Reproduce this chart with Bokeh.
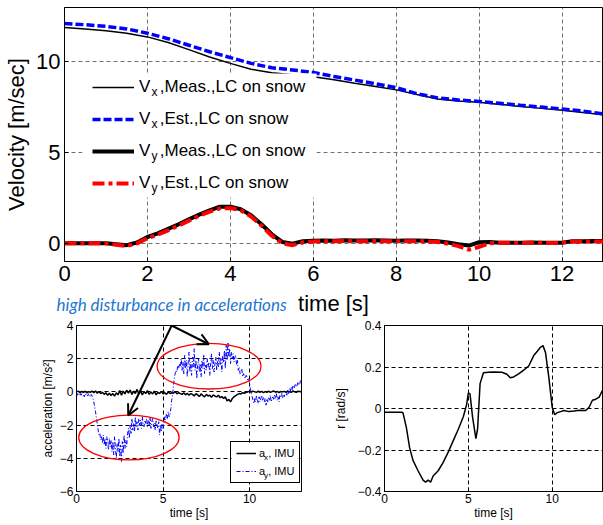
from bokeh.plotting import figure
from bokeh.models import (Range1d, FixedTicker, Legend, LegendItem, Label, Arrow, OpenHead,
                          BoxAnnotation)
from bokeh.layouts import column, row
from bokeh.embed import file_html
from bokeh.resources import INLINE

FONT = "Liberation Sans"

# ---------------- data: top plot (velocities) ----------------
t_vx = [0, 0.5, 1, 1.5, 2, 2.5, 3, 3.5, 4, 4.5, 5, 5.5, 6, 6.5, 7, 7.5, 8, 8.5, 9,
        9.5, 10, 10.5, 11, 11.5, 12, 12.5, 13]
vx_meas = [11.90, 11.82, 11.72, 11.58, 11.38, 11.07, 10.68, 10.27, 9.92, 9.60, 9.40,
           9.30, 9.18, 9.02, 8.82, 8.64, 8.46, 8.20, 7.96, 7.84, 7.78, 7.66, 7.55,
           7.44, 7.33, 7.21, 7.08]
vx_est = [12.12, 12.05, 11.96, 11.82, 11.58, 11.28, 10.92, 10.56, 10.24, 9.92, 9.68,
          9.56, 9.42, 9.20, 9.00, 8.80, 8.58, 8.25, 8.02, 7.90, 7.82, 7.72, 7.61,
          7.51, 7.41, 7.29, 7.14]

t_vy = [0, 0.25, 0.5, 0.75, 1, 1.25, 1.5, 1.75, 2, 2.25, 2.5, 2.75, 3, 3.25, 3.5, 3.75,
        4, 4.25, 4.5, 4.75, 5, 5.25, 5.5, 5.75, 6, 6.25, 6.5, 6.75, 7, 7.25, 7.5, 7.75,
        8, 8.25, 8.5, 8.75, 9, 9.25, 9.5, 9.75, 10, 10.25, 10.5, 10.75, 11, 11.25,
        11.5, 11.75, 12, 12.25, 12.5, 12.75, 13]
vy_meas = [0.00, 0.00, 0.00, 0.00, 0.00, -0.05, -0.10, 0.05, 0.35, 0.55, 0.80, 1.05,
           1.32, 1.58, 1.82, 2.02, 2.02, 1.88, 1.55, 1.05, 0.50, 0.08, -0.02, 0.12,
           0.15, 0.16, 0.15, 0.17, 0.16, 0.16, 0.17, 0.16, 0.15, 0.16, 0.16, 0.15,
           0.12, 0.05, -0.05, -0.12, 0.06, 0.07, 0.04, 0.04, 0.04, 0.05, 0.04, 0.04,
           0.04, 0.12, 0.12, 0.13, 0.13]
vy_est = [0.00, 0.00, 0.00, 0.00, 0.00, -0.08, -0.15, 0.00, 0.28, 0.48, 0.72, 0.98,
          1.25, 1.52, 1.75, 1.93, 1.95, 1.82, 1.48, 0.98, 0.42, 0.00, -0.10, 0.05,
          0.10, 0.12, 0.11, 0.13, 0.12, 0.12, 0.13, 0.12, 0.11, 0.12, 0.12, 0.11,
          0.08, -0.02, -0.15, -0.35, -0.20, 0.00, 0.03, 0.03, 0.02, 0.03, 0.03, 0.02,
          0.03, 0.10, 0.10, 0.11, 0.10]

top_xticks = [0, 2, 4, 6, 8, 10, 12]
top_yticks = [0, 5, 10]
top_labels = ["V  ,Meas.,LC on snow", "V  ,Est.,LC on snow",
              "V  ,Meas.,LC on snow", "V  ,Est.,LC on snow"]
top_subs = ["x", "x", "y", "y"]
top_xlabel = "time [s]"
top_ylabel = "Velocity [m/sec]"

# ---------------- data: bottom-left (IMU accelerations) ----------------
t_ay = [round(i * 0.05, 2) for i in range(261)]
a_y = [
    -0.10, -0.20, -0.05, -0.15, -0.25, -0.10, -0.20, -0.05, -0.15, -0.30,
    -0.10, -0.20, -0.15, -0.25, -0.10, -0.20, -0.30, -0.15, -0.25, -0.40,
    -0.60, -0.90, -1.20, -1.60, -1.90, -2.30, -2.60, -2.50, -2.90, -2.70,
    -3.10, -2.60, -3.20, -2.80, -3.40, -2.70, -3.00, -3.50, -2.80, -3.30,
    -2.90, -3.60, -3.00, -3.80, -2.70, -3.40, -4.00, -3.10, -3.60, -2.80,
    -3.90, -3.20, -4.20, -3.00, -3.70, -2.60, -3.40, -2.90, -3.30, -2.50,
    -2.20, -2.80, -2.00, -2.50, -1.60, -2.30, -1.90, -2.40, -1.50, -2.10,
    -1.80, -2.30, -1.60, -2.00, -1.70, -2.20, -1.50, -1.90, -2.10, -1.70,
    -1.90, -1.60, -2.10, -1.70, -2.00, -1.50, -2.20, -1.80, -1.60, -2.10,
    -1.90, -2.30, -1.70, -2.00, -2.20, -1.80, -2.60, -2.00, -2.40, -1.90,
    -2.20, -1.90, -1.50, -1.70, -1.30, -1.60, -1.20, -1.50, -1.40, -1.00,
    -0.50, -0.20, 0.40, 0.80, 1.10, 1.30, 1.20, 1.60, 1.40, 1.70,
    1.50, 2.00, 1.30, 1.80, 1.10, 2.20, 1.40, 1.90, 0.90, 1.70,
    2.40, 1.20, 1.80, 1.00, 2.10, 1.50, 2.60, 1.30, 1.90, 0.80,
    1.60, 2.00, 1.20, 1.70, 0.90, 1.90, 1.40, 2.20, 1.10, 1.60,
    1.30, 2.00, 1.50, 1.80, 1.00, 1.70, 2.30, 1.40, 1.90, 1.20,
    1.70, 2.10, 1.30, 1.90, 1.50, 2.40, 1.60, 2.00, 1.20, 2.20,
    1.80, 2.50, 1.40, 2.80, 1.90, 3.00, 2.10, 2.60, 1.70, 2.40,
    2.00, 2.30, 1.80, 2.10, 2.20, 1.60, 1.90, 1.30, 1.50, 1.10,
    1.20, 1.40, 0.90, 1.10, 1.00, 0.80, 1.00, 0.90, 0.70, 0.80,
    0.50, 0.20, -0.10, -0.30, -0.50, -0.70, -0.40, -0.60, -0.20, -0.50,
    -0.70, -0.30, -0.60, -0.40, -0.20, -0.50, -0.30, -0.60, -0.40, -0.80,
    -0.40, -0.60, -0.30, -0.50, -0.20, -0.60, -0.40, -0.30, -0.50, -0.20,
    -0.40, -0.10, -0.50, -0.30, -0.60, -0.20, -0.30, -0.10, -0.40, -0.20,
    -0.30, -0.10, 0.00, -0.20, 0.10, -0.10, 0.20, 0.00, 0.30, 0.10,
    0.40, 0.20, 0.30, 0.50, 0.30, 0.40, 0.60, 0.40, 0.50, 0.70,
    0.60,
]
t_ax = [round(i * 0.1, 1) for i in range(131)]
a_x = [
    0.00, 0.05, -0.05, 0.03, -0.02, 0.04, -0.06, 0.02, -0.03, 0.05,
    -0.05, 0.06, -0.08, 0.02, -0.10, -0.02, -0.15, -0.05, -0.20, -0.08,
    -0.22, -0.10, -0.25, -0.05, -0.18, 0.08, -0.20, 0.05, -0.12, 0.10,
    -0.08, 0.12, -0.15, 0.05, -0.10, 0.15, -0.12, 0.06, -0.18, 0.02,
    -0.10, 0.08, -0.15, 0.00, -0.12, 0.05, -0.18, -0.02, -0.10, 0.03,
    -0.12, -0.05, -0.15, 0.00, -0.10, -0.05, -0.08, 0.02, -0.12, -0.05,
    -0.10, -0.15, -0.05, -0.18, -0.08, -0.20, -0.10, -0.15, -0.25, -0.10,
    -0.18, -0.28, -0.12, -0.22, -0.30, -0.15, -0.25, -0.20, -0.32, -0.18,
    -0.25, -0.30, -0.20, -0.35, -0.28, -0.40, -0.30, -0.55, -0.45, -0.60,
    -0.40, -0.30, -0.22, -0.15, -0.10, -0.12, -0.05, -0.08, -0.02, 0.00,
    0.03, -0.02, 0.05, 0.00, -0.03, 0.04, -0.02, 0.03, -0.04, 0.02,
    -0.02, 0.04, -0.03, 0.02, 0.05, -0.02, 0.03, -0.04, 0.02, 0.00,
    0.03, -0.02, 0.04, 0.00, -0.03, 0.05, 0.01, -0.02, 0.04, 0.02,
    0.00,
]
bl_xticks = [0, 5, 10]
bl_yticks = [-6, -4, -2, 0, 2, 4]
bl_labels = ["a , IMU", "a , IMU"]
bl_subs = ["x", "y"]

# ---------------- data: bottom-right (yaw rate) ----------------
t_r = [0, 0.5, 1.0, 1.1, 1.3, 1.5, 1.7, 2.0, 2.3, 2.45, 2.6, 2.75, 2.9, 3.2, 3.5, 3.8,
       4.1, 4.4, 4.7, 4.9, 5.0, 5.1, 5.25, 5.45, 5.55, 5.7, 5.9, 6.2, 6.5, 7.0, 7.3,
       7.5, 7.7, 8.0, 8.3, 8.6, 8.9, 9.1, 9.3, 9.45, 9.6, 9.8, 10.0, 10.15, 10.3,
       10.5, 10.7, 11.0, 11.3, 11.6, 12.0, 12.2, 12.4, 12.6, 12.8, 13.0]
r_rate = [-0.018, -0.018, -0.018, -0.02, -0.09, -0.19, -0.25, -0.30, -0.345, -0.355,
          -0.345, -0.355, -0.325, -0.30, -0.26, -0.21, -0.155, -0.10, -0.04, 0.02,
          0.075, 0.07, -0.04, -0.145, -0.10, 0.12, 0.172, 0.175, 0.176, 0.175,
          0.165, 0.148, 0.152, 0.167, 0.185, 0.205, 0.255, 0.275, 0.295, 0.303,
          0.27, 0.15, 0.006, -0.03, -0.02, -0.015, -0.01, -0.015, -0.012, -0.008,
          -0.01, 0.006, 0.04, 0.045, 0.055, 0.087]
br_xticks = [0, 5, 10]
br_yticks = [-0.4, -0.2, 0, 0.2, 0.4]

annotation_text = "high disturbance in accelerations"

# ---------------- layout constants (pixels) ----------------
W = 603
H_TOP = 290                 # top plot (frame + tick labels)
H_STRIP = 26                # strip holding the x label and the blue note
TOP_L, TOP_T, TOP_FB = 64, 7, 261
Y0_BOT = H_TOP + H_STRIP    # 316
BOT_H = 525 - Y0_BOT
BL_W = 330
BL_L, BL_R = 76, 29
BR_L, BR_R = 53, 1
BOT_T, BOT_B = 9, 34


def style(p, tick_px, label_px, grid_color, grid_dash, xticks, yticks):
    p.outline_line_color = "black"
    p.outline_line_width = 1
    p.background_fill_color = "white"
    p.border_fill_color = "white"
    p.xaxis.ticker = FixedTicker(ticks=xticks)
    p.yaxis.ticker = FixedTicker(ticks=yticks)
    p.xgrid.ticker = FixedTicker(ticks=xticks)
    p.ygrid.ticker = FixedTicker(ticks=yticks)
    for ax in (p.xaxis[0], p.yaxis[0]):
        ax.major_tick_in = 4
        ax.major_tick_out = 0
        ax.minor_tick_line_color = None
        ax.axis_line_color = "black"
        ax.major_tick_line_color = "black"
        ax.major_label_text_font = FONT
        ax.major_label_text_font_size = tick_px
        ax.major_label_text_color = "black"
        ax.axis_label_text_font = FONT
        ax.axis_label_text_font_size = label_px
        ax.axis_label_text_font_style = "normal"
        ax.axis_label_text_color = "black"
    p.grid.grid_line_color = grid_color
    p.grid.grid_line_dash = grid_dash
    p.grid.grid_line_width = 1


# ================= top figure =================
p1 = figure(width=W, height=H_TOP, x_range=Range1d(0, 13), y_range=Range1d(-1, 13),
            output_backend="svg", toolbar_location=None,
            min_border_left=TOP_L, min_border_right=0, min_border_top=TOP_T,
            min_border_bottom=H_TOP - TOP_FB)
style(p1, "22px", "22px", "#707070", "4 3", top_xticks, top_yticks)
p1.yaxis.axis_label = top_ylabel
p1.xaxis.major_label_standoff = 4
p1.yaxis.major_label_standoff = 4
p1.yaxis.axis_label_standoff = 4

r1 = p1.line(t_vx, vx_meas, line_color="black", line_width=1.5)
r2 = p1.line(t_vx, vx_est, line_color="#0000ff", line_width=3.5, line_dash="8 3")
r3 = p1.line(t_vy, vy_meas, line_color="black", line_width=4)
r4 = p1.line(t_vy, vy_est, line_color="#ff0000", line_width=4, line_dash="12 4 4 4")

XS1 = (W - TOP_L) / 13.0
YS1 = (TOP_FB - TOP_T) / 14.0


def top_data(px, py):
    return (px - TOP_L) / XS1, -1 + (TOP_FB - py) / YS1


leg_top, pad, item_h, spc = 73, 4, 20, 12
leg_left = 88
leg_h = 2 * pad + 4 * item_h + 3 * spc

# white panel behind the (transparent) legend, hiding the grid like the original
bx0, by0 = top_data(82, leg_top + leg_h)
bx1, by1 = top_data(316, leg_top)
p1.add_layout(BoxAnnotation(left=bx0, right=bx1, bottom=by0, top=by1,
                            fill_color="white", fill_alpha=1.0, line_alpha=0))

leg1 = Legend(items=[LegendItem(label=lab, renderers=[r])
                     for lab, r in zip(top_labels, [r1, r2, r3, r4])],
              location=(leg_left - TOP_L, TOP_FB - (leg_top + leg_h)),
              padding=pad, spacing=spc, margin=0,
              glyph_width=42, glyph_height=item_h, label_height=item_h,
              label_standoff=5,
              label_text_font=FONT, label_text_font_size="17px",
              label_text_color="black",
              border_line_alpha=0, background_fill_alpha=0)
p1.add_layout(leg1)
for i, s in enumerate(top_subs):
    cy = leg_top + pad + item_h / 2 + i * (item_h + spc)
    x, y = top_data(151, cy + 4.5)
    p1.add_layout(Label(x=x, y=y, text=s, text_font=FONT, text_font_size="12px",
                        text_baseline="middle", text_align="left",
                        text_color="black", level="overlay"))

# ================= strip between the rows: x label + blue note =================
ps = figure(width=W, height=H_STRIP, x_range=Range1d(0, W), y_range=Range1d(0, H_STRIP),
            output_backend="svg", toolbar_location=None,
            x_axis_location=None, y_axis_location=None,
            min_border_left=0, min_border_right=0, min_border_top=0, min_border_bottom=0)
ps.outline_line_color = None
ps.grid.visible = False
ps.background_fill_color = "white"
ps.border_fill_color = "white"
ps.add_layout(Label(x=333, y=Y0_BOT - 303, text=top_xlabel, text_font=FONT,
                    text_font_size="22px", text_color="black",
                    text_baseline="middle", text_align="center"))
ps.add_layout(Label(x=56, y=Y0_BOT - 304, text=annotation_text, text_font="Lato",
                    text_font_style="italic", text_font_size="17px",
                    text_color="#1f77d0", text_baseline="middle", text_align="left"))

# ================= bottom-left figure =================
p2 = figure(width=BL_W, height=BOT_H, x_range=Range1d(0, 13), y_range=Range1d(-6, 4),
            output_backend="svg", toolbar_location=None,
            min_border_left=BL_L, min_border_right=BL_R,
            min_border_top=BOT_T, min_border_bottom=BOT_B)
style(p2, "12px", "12px", "black", "4 3", bl_xticks, bl_yticks)
p2.xaxis.axis_label = "time [s]"
p2.yaxis.axis_label = "acceleration [m/s\u00b2]"
p2.xaxis.major_label_standoff = 2
p2.xaxis.axis_label_standoff = 0
p2.yaxis.major_label_standoff = 3
p2.yaxis.axis_label_standoff = 2

ra = p2.line(t_ax, a_x, line_color="black", line_width=1.5)
rb = p2.line(t_ay, a_y, line_color="#0000ff", line_width=1, line_dash="4 2 1 2")

# red ellipses highlighting the disturbance
p2.ellipse(x=[3.03, 7.66], y=[-2.75, 1.55], width=[5.8, 6.0], height=[2.7, 2.75],
           fill_color=None, line_color="#ff0000", line_width=1.3)

for xe, ye in [(2.99, -1.42), (7.65, 2.87)]:
    p2.add_layout(Arrow(end=OpenHead(size=11, line_width=2, line_color="black"),
                        x_start=5.5, y_start=4.0, x_end=xe, y_end=ye,
                        line_width=2, line_color="black"))

XS2 = (BL_W - BL_L - BL_R) / 13.0
FH = BOT_H - BOT_T - BOT_B
YS2 = FH / 10.0
bl_frame_bottom = Y0_BOT + BOT_T + FH


def bl_data(px, py):
    return (px - BL_L) / XS2, -6 + (bl_frame_bottom - py) / YS2


wx0, wy0 = bl_data(231, 482)
wx1, wy1 = bl_data(297, 444)
p2.add_layout(BoxAnnotation(left=wx0, right=wx1, bottom=wy0, top=wy1,
                            fill_color="white", fill_alpha=1.0, line_alpha=0))
leg2 = Legend(items=[LegendItem(label=lab, renderers=[r])
                     for lab, r in zip(bl_labels, [ra, rb])],
              location=(230 - BL_L, bl_frame_bottom - 483),
              padding=5, spacing=6, margin=0,
              glyph_width=20, glyph_height=12, label_height=12, label_standoff=3,
              label_text_font=FONT, label_text_font_size="11px", label_text_color="black",
              border_line_color="black", border_line_width=1, border_line_alpha=1.0,
              background_fill_alpha=0)
p2.add_layout(leg2)
for i, s in enumerate(bl_subs):
    cy = 454 + i * 18
    x, y = bl_data(263.5, cy + 3)
    p2.add_layout(Label(x=x, y=y, text=s, text_font=FONT, text_font_size="8px",
                        text_baseline="middle", text_align="left", text_color="black",
                        level="overlay"))

# ================= bottom-right figure =================
p3 = figure(width=W - BL_W, height=BOT_H, x_range=Range1d(0, 13),
            y_range=Range1d(-0.4, 0.4),
            output_backend="svg", toolbar_location=None,
            min_border_left=BR_L, min_border_right=BR_R,
            min_border_top=BOT_T, min_border_bottom=BOT_B)
style(p3, "12px", "12px", "black", "4 3", br_xticks, br_yticks)
p3.xaxis.axis_label = "time [s]"
p3.yaxis.axis_label = "r [rad/s]"
p3.yaxis.major_label_overrides = {0: "0"}
p3.xaxis.major_label_standoff = 2
p3.xaxis.axis_label_standoff = 0
p3.yaxis.major_label_standoff = 3
p3.yaxis.axis_label_standoff = 7
p3.line(t_r, r_rate, line_color="black", line_width=1.5)

layout = column(p1, row(ps, spacing=0), row(p2, p3, spacing=0), spacing=0)
open("out.html", "w").write(file_html(layout, INLINE))
